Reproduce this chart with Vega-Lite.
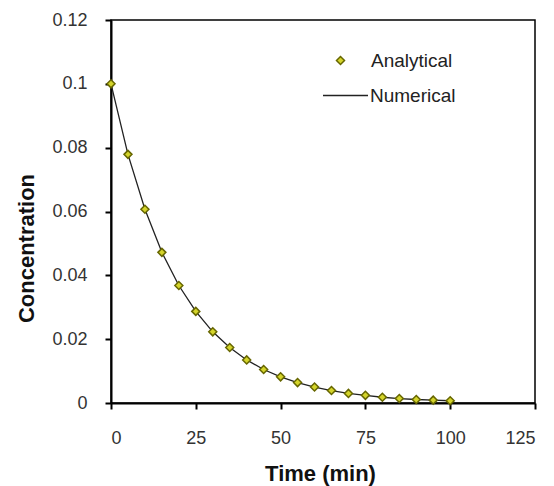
{
  "$schema": "https://vega.github.io/schema/vega-lite/v6.json",
  "width": 424,
  "height": 383,
  "autosize": "none",
  "padding": {"left": 111, "top": 20, "right": 19, "bottom": 83},
  "background": "white",
  "config": {
    "view": {"stroke": "black", "strokeWidth": 1.5},
    "axis": {
      "grid": false,
      "domainColor": "black",
      "domainWidth": 2,
      "tickColor": "black",
      "tickWidth": 2,
      "tickSize": 6,
      "labelFont": "Liberation Sans",
      "labelFontSize": 18,
      "labelColor": "#333333",
      "titleFont": "Liberation Sans",
      "titleFontSize": 22,
      "titleFontWeight": "bold",
      "titleColor": "#111111"
    },
    "legend": {
      "labelFont": "Liberation Sans",
      "labelFontSize": 19,
      "labelColor": "#222222",
      "padding": 0
    }
  },
  "data": {
    "values": [
      {"t": 0, "c": 0.1},
      {"t": 5, "c": 0.0779},
      {"t": 10, "c": 0.0607},
      {"t": 15, "c": 0.0472},
      {"t": 20, "c": 0.0368},
      {"t": 25, "c": 0.0287},
      {"t": 30, "c": 0.0223},
      {"t": 35, "c": 0.0174},
      {"t": 40, "c": 0.0135},
      {"t": 45, "c": 0.0105},
      {"t": 50, "c": 0.0082},
      {"t": 55, "c": 0.0064},
      {"t": 60, "c": 0.005},
      {"t": 65, "c": 0.0039},
      {"t": 70, "c": 0.003},
      {"t": 75, "c": 0.0024},
      {"t": 80, "c": 0.0018},
      {"t": 85, "c": 0.0014},
      {"t": 90, "c": 0.0011},
      {"t": 95, "c": 0.0009},
      {"t": 100, "c": 0.0007}
    ]
  },
  "encoding": {
    "x": {
      "field": "t",
      "type": "quantitative",
      "scale": {"domain": [0, 125], "nice": false, "zero": false},
      "axis": {
        "values": [0, 25, 50, 75, 100, 125],
        "labelPadding": 20,
        "title": "Time (min)",
        "titleX": 209,
        "titleY": 77,
        "titleBaseline": "alphabetic"
      }
    },
    "y": {
      "field": "c",
      "type": "quantitative",
      "scale": {"domain": [0, 0.12], "nice": false},
      "axis": {
        "values": [0, 0.02, 0.04, 0.06, 0.08, 0.1, 0.12],
        "labelExpr": "format(datum.value, '.2~f')",
        "labelPadding": 18,
        "title": "Concentration",
        "titleX": -78,
        "titleY": 228,
        "titleBaseline": "alphabetic"
      }
    }
  },
  "layer": [
    {
      "mark": {"type": "line", "strokeWidth": 1.3},
      "encoding": {
        "stroke": {
          "datum": "Numerical",
          "scale": {"range": ["#222222"]},
          "legend": {
            "title": null,
            "orient": "none",
            "legendX": 211,
            "legendY": 52,
            "symbolType": "stroke",
            "symbolSize": 2025,
            "symbolStrokeWidth": 1.5,
            "labelOffset": 1
          }
        }
      }
    },
    {
      "mark": {"type": "point", "shape": "diamond", "filled": true, "size": 64, "stroke": "#666600", "strokeWidth": 1.5, "opacity": 1},
      "encoding": {
        "fill": {
          "datum": "Analytical",
          "scale": {"range": ["#d4d42a"]},
          "legend": {
            "title": null,
            "orient": "none",
            "legendX": 220,
            "legendY": 31,
            "symbolType": "diamond",
            "symbolSize": 64,
            "symbolStrokeColor": "#666600",
            "symbolStrokeWidth": 1.5,
            "symbolOpacity": 1,
            "labelOffset": 21
          }
        }
      }
    }
  ]
}
